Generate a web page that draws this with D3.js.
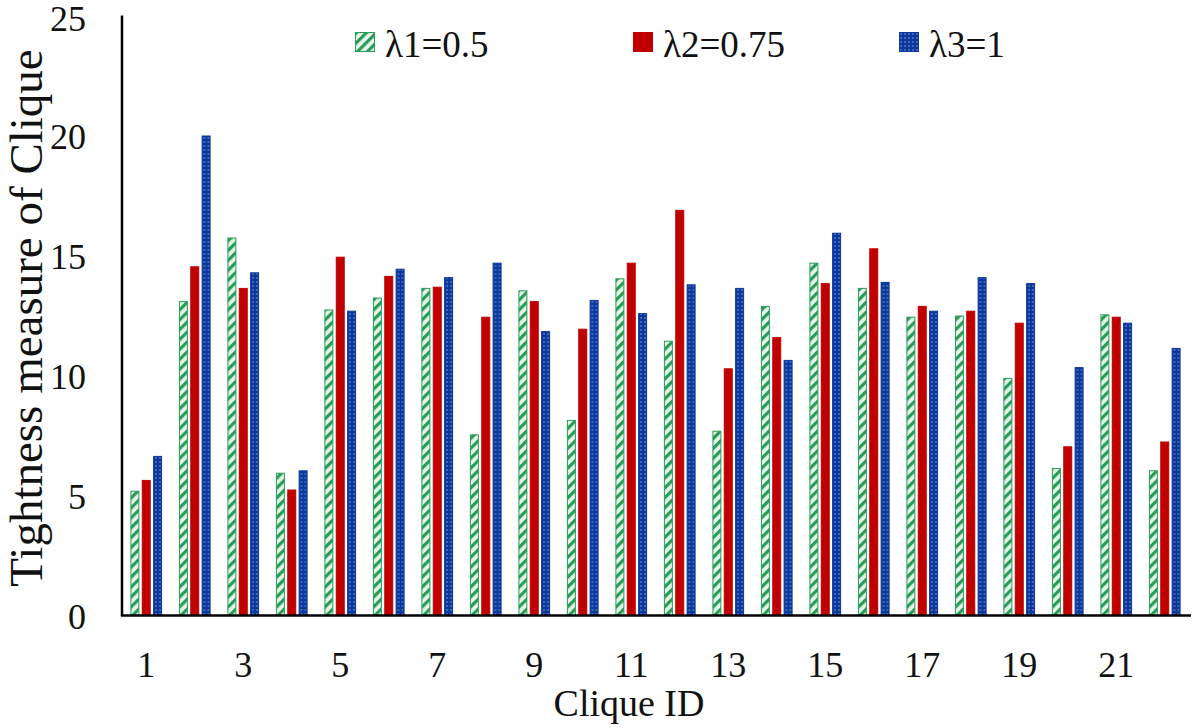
<!DOCTYPE html>
<html>
<head>
<meta charset="utf-8">
<script src="https://cdn.jsdelivr.net/npm/d3@7"></script>
<style>
  html, body { margin: 0; padding: 0; background: #fff; }
  svg { display: block; }
  text { font-family: "Liberation Serif", "Times New Roman", serif; fill: #111; }
</style>
</head>
<body>
<svg id="chart" width="1196" height="728"></svg>
<script>
// chart data
const cliqueIds = d3.range(1, 23);
const lambda1 = [5.2, 13.1, 15.75, 5.95, 12.75, 13.25, 13.65, 7.55, 13.55, 8.15, 14.05, 11.45,
                 7.7, 12.9, 14.7, 13.65, 12.45, 12.5, 9.9, 6.15, 12.55, 6.05];
const lambda2 = [5.65, 14.55, 13.65, 5.25, 14.95, 14.15, 13.7, 12.45, 13.1, 11.95, 14.7, 16.9,
                 10.3, 11.6, 13.85, 15.3, 12.9, 12.7, 12.2, 7.05, 12.45, 7.25];
const lambda3 = [6.65, 20.0, 14.3, 6.05, 12.7, 14.45, 14.1, 14.7, 11.85, 13.15, 12.6, 13.8,
                 13.65, 10.65, 15.95, 13.9, 12.7, 14.1, 13.85, 10.35, 12.2, 11.15];
const seriesNames = ['λ1=0.5', 'λ2=0.75', 'λ3=1'];
const yTicks = [0, 5, 10, 15, 20, 25];
const xTickLabels = [1, 3, 5, 7, 9, 11, 13, 15, 17, 19, 21];

const svg = d3.select('#chart');
const margin = { left: 122, right: 1189, top: 15.5, bottom: 615.5 };

// hatch patterns like the office chart fills
const defs = svg.append('defs');

const hatch = defs.append('pattern')
    .attr('id', 'hatch-green')
    .attr('patternUnits', 'userSpaceOnUse')
    .attr('width', 7)
    .attr('height', 7)
    .attr('patternTransform', 'rotate(45)');
hatch.append('rect')
    .attr('width', 7).attr('height', 7)
    .attr('fill', '#e4f6ea');
hatch.append('rect')
    .attr('x', 0).attr('width', 3.2).attr('height', 7)
    .attr('fill', '#2a9c58');

const dots = defs.append('pattern')
    .attr('id', 'dots-blue')
    .attr('patternUnits', 'userSpaceOnUse')
    .attr('width', 4)
    .attr('height', 4);
dots.append('rect')
    .attr('width', 4).attr('height', 4)
    .attr('fill', '#0a389c');
dots.append('rect')
    .attr('x', 1.5).attr('y', 1.5)
    .attr('width', 1).attr('height', 1)
    .attr('fill', '#e8eeff');

const styles = [
    { fill: 'url(#hatch-green)', stroke: '#2a9c58' },
    { fill: '#c00000', stroke: '#c00000' },
    { fill: 'url(#dots-blue)', stroke: '#0a389c' }
];

// scales
const x0 = d3.scaleBand()
    .domain(cliqueIds)
    .range([margin.left, margin.right])
    .padding(0);

const groupWidth = 31.7;
const x1 = d3.scaleBand()
    .domain([0, 1, 2])
    .range([(x0.bandwidth() - groupWidth) / 2, (x0.bandwidth() + groupWidth) / 2])
    .paddingInner(0.21)
    .paddingOuter(0);

const y = d3.scaleLinear()
    .domain([0, 25])
    .range([margin.bottom, margin.top]);

const seriesData = [lambda1, lambda2, lambda3];

// bars
const groups = svg.append('g')
    .selectAll('g')
    .data(cliqueIds)
    .join('g')
    .attr('transform', d => `translate(${x0(d)},0)`);

groups.selectAll('rect')
    .data((d, i) => seriesData.map((s, k) => ({ k, v: s[i] })))
    .join('rect')
    .attr('x', d => x1(d.k) + 0.5)
    .attr('y', d => y(d.v) + 0.5)
    .attr('width', x1.bandwidth() - 1)
    .attr('height', d => y(0) - y(d.v) - 0.5)
    .attr('fill', d => styles[d.k].fill)
    .attr('stroke', d => styles[d.k].stroke)
    .attr('stroke-width', 1);

// y axis labels (no tick marks); top one nudged so it stays in the frame
svg.append('g')
    .selectAll('text')
    .data(yTicks)
    .join('text')
    .attr('x', 86)
    .attr('y', d => Math.max(y(d) + 13, 31))
    .attr('text-anchor', 'end')
    .attr('font-size', '36px')
    .text(d => d);

// x axis labels, every second clique
svg.append('g')
    .selectAll('text')
    .data(xTickLabels)
    .join('text')
    .attr('x', d => x0(d) + x0.bandwidth() / 2)
    .attr('y', 677)
    .attr('text-anchor', 'middle')
    .attr('font-size', '36px')
    .text(d => d);

// axis lines
svg.append('line')
    .attr('x1', margin.left).attr('x2', margin.left)
    .attr('y1', margin.top).attr('y2', margin.bottom)
    .attr('stroke', '#000').attr('stroke-width', 2.5);
svg.append('line')
    .attr('x1', margin.left - 1.2).attr('x2', margin.right + 2)
    .attr('y1', margin.bottom).attr('y2', margin.bottom)
    .attr('stroke', '#000').attr('stroke-width', 2.5);

// axis titles
svg.append('text')
    .attr('x', 629)
    .attr('y', 716)
    .attr('text-anchor', 'middle')
    .attr('font-size', '38px')
    .text('Clique ID');

svg.append('text')
    .attr('transform', 'translate(42,318) rotate(-90)')
    .attr('text-anchor', 'middle')
    .attr('font-size', '47px')
    .text('Tightness measure of Clique');

// legend
const legendX = [355, 633, 899];
const legend = svg.append('g')
    .selectAll('g')
    .data(seriesNames)
    .join('g')
    .attr('transform', (d, i) => `translate(${legendX[i]},32)`);

legend.append('rect')
    .attr('x', 0.5).attr('y', 0.5)
    .attr('width', 19).attr('height', 19)
    .attr('fill', (d, i) => styles[i].fill)
    .attr('stroke', (d, i) => styles[i].stroke)
    .attr('stroke-width', 1);

legend.append('text')
    .attr('x', 30)
    .attr('y', 25)
    .attr('font-size', '37px')
    .text(d => d);
</script>
</body>
</html>
